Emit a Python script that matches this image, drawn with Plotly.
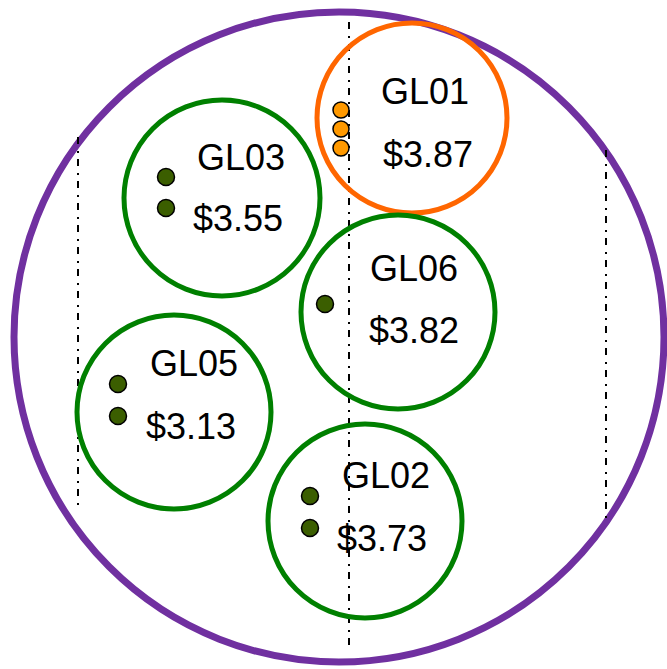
import plotly.graph_objects as go

# ---- data ----
groups = ["GL01", "GL03", "GL06", "GL05", "GL02"]
prices = ["$3.87", "$3.55", "$3.82", "$3.13", "$3.73"]
circle_x = [412, 222, 398, 174, 365]
circle_y = [118, 198, 312, 412, 521]
circle_r = [95, 98, 97, 97, 97]
highlight = ["GL01"]

dot_group = ["GL01", "GL01", "GL01", "GL03", "GL03", "GL06", "GL05", "GL05", "GL02", "GL02"]
dot_x = [341, 341, 341, 166, 166, 325, 118, 118, 310, 310]
dot_y = [110, 129, 148, 177, 208, 304, 384, 416, 496, 528]

label_x = [379, 195, 368, 148, 340]
label_y = [91, 157, 268, 363, 475]
price_x = [381, 191, 367, 144, 335]
price_y = [154, 218, 330, 426, 538]

outer_cx, outer_cy, outer_r = 339, 337, 325
guide_x = [78, 349, 606]
guide_y0 = [137, 22, 150]
guide_y1 = [505, 648, 520]

W, H = 667, 669
PURPLE = "#7030A0"
GREEN = "#008000"
ORANGE = "#FF6600"
DOT_GREEN = "#3B5E00"
DOT_ORANGE = "#FF9900"

shapes = []
shapes.append(dict(type="circle", xref="x", yref="y",
                   x0=outer_cx - outer_r, x1=outer_cx + outer_r,
                   y0=outer_cy - outer_r, y1=outer_cy + outer_r,
                   line=dict(color=PURPLE, width=7), layer="below"))
for gx, a, b in zip(guide_x, guide_y0, guide_y1):
    shapes.append(dict(type="line", xref="x", yref="y", x0=gx, x1=gx, y0=a, y1=b,
                       line=dict(color="black", width=2, dash="7px,7px,2px,6px"),
                       layer="below"))
for g, cx, cy, r in zip(groups, circle_x, circle_y, circle_r):
    col = ORANGE if g in highlight else GREEN
    shapes.append(dict(type="circle", xref="x", yref="y",
                       x0=cx - r, x1=cx + r, y0=cy - r, y1=cy + r,
                       line=dict(color=col, width=5), layer="below"))

fig = go.Figure()
cols = [DOT_ORANGE if g in highlight else DOT_GREEN for g in dot_group]
sizes = [16 if g in highlight else 17 for g in dot_group]
fig.add_trace(go.Scatter(x=dot_x, y=dot_y, mode="markers",
                         marker=dict(color=cols, size=sizes, opacity=1,
                                     line=dict(color="black", width=1.5)),
                         hoverinfo="skip", showlegend=False))

annotations = []
for g, p, lx, ly, px, py in zip(groups, prices, label_x, label_y, price_x, price_y):
    annotations.append(dict(x=lx, y=ly, xref="x", yref="y", text=g, showarrow=False,
                            xanchor="left", yanchor="middle",
                            font=dict(family="Liberation Sans, Arial", size=36, color="black")))
    annotations.append(dict(x=px, y=py, xref="x", yref="y", text=p, showarrow=False,
                            xanchor="left", yanchor="middle",
                            font=dict(family="Liberation Sans, Arial", size=36, color="black")))

fig.update_layout(width=W, height=H, margin=dict(l=0, r=0, t=0, b=0),
                  paper_bgcolor="white", plot_bgcolor="white",
                  shapes=shapes, annotations=annotations,
                  xaxis=dict(range=[0, W], visible=False, fixedrange=True),
                  yaxis=dict(range=[H, 0], visible=False, fixedrange=True),
                  showlegend=False)

fig.write_html("out.html", config={"displayModeBar": False},
               post_script="document.body.style.margin='0';document.body.style.overflow='hidden';")
